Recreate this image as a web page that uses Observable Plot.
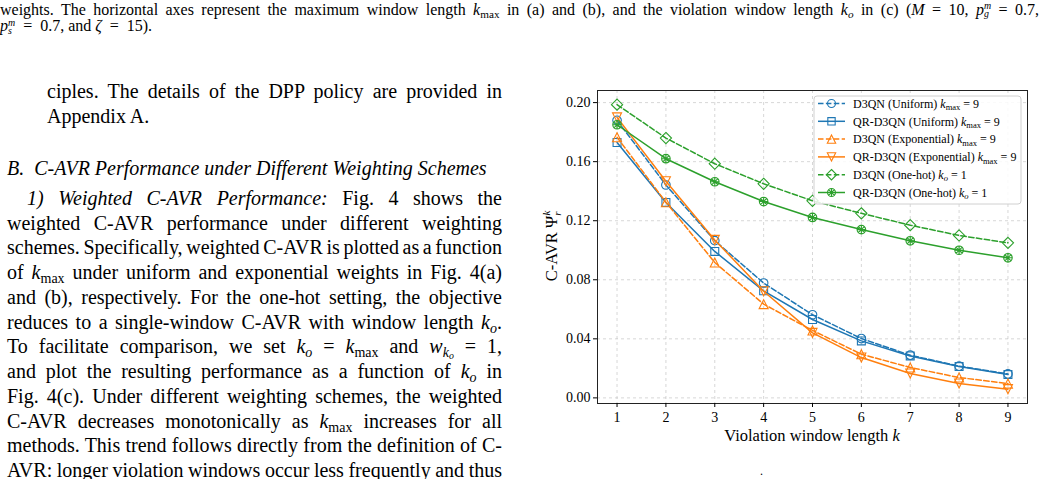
<!DOCTYPE html>
<html>
<head>
<meta charset="utf-8">
<script src="https://cdn.jsdelivr.net/npm/d3@7"></script>
<script src="https://cdn.jsdelivr.net/npm/@observablehq/plot@0.6"></script>
<style>
  html, body { margin: 0; padding: 0; background: #fff; }
  body { width: 1041px; height: 479px; position: relative; overflow: hidden;
         font-family: "Liberation Serif", "Times New Roman", serif; color: #000; }
  .ln { position: absolute; white-space: nowrap; }
  sub { font-size: 70%; vertical-align: -0.25em; line-height: 0; }
  .ss { display: inline-block; vertical-align: -0.28em; font-size: 62%; line-height: 1; font-style: italic; }
  .ss span { display: block; height: 0.82em; }
  #chart { position: absolute; left: 540px; top: 85px; }
</style>
</head>
<body>
<div id="text"></div>
<div id="chart"></div>
<script>
// ---- Chart data: C-AVR versus violation window length ----
const kValues = [1, 2, 3, 4, 5, 6, 7, 8, 9];
const yTicks = [0, 0.04, 0.08, 0.12, 0.16, 0.20];

const d3qnUniform    = [0.1880, 0.1442, 0.1065, 0.0778, 0.0563, 0.0402, 0.0289, 0.0215, 0.0162];
const qrUniform      = [0.1730, 0.1324, 0.0992, 0.0725, 0.0531, 0.0386, 0.0284, 0.0212, 0.0158];
const d3qnExp        = [0.1765, 0.1325, 0.0917, 0.0635, 0.0457, 0.0296, 0.0206, 0.0138, 0.0097];
const qrExp          = [0.1900, 0.1467, 0.1070, 0.0722, 0.0440, 0.0273, 0.0165, 0.0097, 0.0059];
const d3qnOneHot     = [0.1986, 0.1760, 0.1586, 0.1450, 0.1335, 0.1250, 0.1170, 0.1100, 0.1050];
const qrOneHot       = [0.1850, 0.1620, 0.1464, 0.1330, 0.1222, 0.1140, 0.1064, 0.1000, 0.0949];

const seriesNames  = ["D3QN (Uniform)", "QR-D3QN (Uniform)", "D3QN (Exponential)",
                      "QR-D3QN (Exponential)", "D3QN (One-hot)", "QR-D3QN (One-hot)"];
const seriesValues = [d3qnUniform, qrUniform, d3qnExp, qrExp, d3qnOneHot, qrOneHot];
const legendSub    = ["max", "max", "max", "max", "o", "o"];
const legendAt     = [9, 9, 9, 9, 1, 1];

// ---- Marker shapes ----
const rad = s => Math.sqrt(s / Math.PI);
const symCircle = { draw(c, s) { const r = rad(s); c.moveTo(r, 0); c.arc(0, 0, r, 0, 2 * Math.PI); } };
const symSquare = { draw(c, s) { const h = rad(s) * 0.92; c.rect(-h, -h, 2 * h, 2 * h); } };
const symTriUp = { draw(c, s) { const h = rad(s) * 1.05; c.moveTo(0, -h); c.lineTo(h, h); c.lineTo(-h, h); c.closePath(); } };
const symTriDown = { draw(c, s) { const h = rad(s) * 1.05; c.moveTo(0, h); c.lineTo(h, -h); c.lineTo(-h, -h); c.closePath(); } };
const symDiamond = { draw(c, s) { const h = rad(s) * 1.3; c.moveTo(0, -h); c.lineTo(h, 0); c.lineTo(0, h); c.lineTo(-h, 0); c.closePath(); } };
const symOtimes = { draw(c, s) {
  const r = rad(s); c.moveTo(r, 0); c.arc(0, 0, r, 0, 2 * Math.PI);
  const d = r * 0.72; c.moveTo(-d, -d); c.lineTo(d, d); c.moveTo(d, -d); c.lineTo(-d, d);
  c.moveTo(-r, 0); c.lineTo(r, 0); c.moveTo(0, -r); c.lineTo(0, r);
} };

const blue = "#1f77b4", orange = "#ff7f0e", green = "#2ca02c";
const styles = [
  { color: blue,   dash: "5.5,2.4", symbol: symCircle },
  { color: blue,   dash: null,      symbol: symSquare },
  { color: orange, dash: "5.5,2.4", symbol: symTriUp },
  { color: orange, dash: null,      symbol: symTriDown },
  { color: green,  dash: "5.5,2.4", symbol: symDiamond },
  { color: green,  dash: null,      symbol: symOtimes }
];

const rows = seriesNames.map((name, i) => kValues.map((k, j) => ({ k, v: seriesValues[i][j], name })));

const W = 492, H = 365;
const marks = [
  Plot.gridX(kValues, { stroke: "#b8b8b8", strokeOpacity: 0.7, strokeDasharray: "3,3", strokeWidth: 0.8 }),
  Plot.gridY(yTicks, { stroke: "#b8b8b8", strokeOpacity: 0.7, strokeDasharray: "3,3", strokeWidth: 0.8 })
];
rows.forEach((data, i) => {
  const st = styles[i];
  marks.push(Plot.line(data, { x: "k", y: "v", stroke: st.color, strokeWidth: 1.5, strokeDasharray: st.dash }));
  marks.push(Plot.dot(data, { x: "k", y: "v", stroke: st.color, fill: "none", strokeWidth: 1.1, r: 4.3, symbol: st.symbol }));
});
marks.push(
  Plot.frame({ stroke: "#222", strokeWidth: 1 }),
  Plot.axisX(kValues, { tickSize: 4, tickPadding: 5, label: null, tickFormat: d => String(d), fontSize: 14 }),
  Plot.axisY(yTicks, { tickSize: 4, tickPadding: 3, label: null, tickFormat: d => d.toFixed(2), fontSize: 14 })
);

const plot = Plot.plot({
  width: W, height: H,
  marginLeft: 57, marginRight: 5, marginTop: 5, marginBottom: 47,
  x: { domain: [0.6, 9.4] },
  y: { domain: [-0.0038, 0.2082] },
  style: { fontFamily: "Liberation Serif, Times New Roman, serif", fontSize: "14px", color: "#000", background: "transparent" },
  marks
});
document.getElementById("chart").appendChild(plot);

const svg = d3.select(plot);

// Axis titles
const xl = svg.append("text").attr("x", 272).attr("y", 356).attr("text-anchor", "middle")
  .attr("font-size", 16.5).attr("fill", "#000");
xl.append("tspan").text("Violation window length ");
xl.append("tspan").attr("font-style", "italic").text("k");

const yl = svg.append("text").attr("transform", "translate(16.5,161) rotate(-90)")
  .attr("text-anchor", "middle").attr("font-size", 16.5).attr("fill", "#000");
yl.append("tspan").text("C-AVR \u03A8");
yl.append("tspan").attr("font-style", "italic").attr("font-size", 11).attr("dy", 4).text("r");
yl.append("tspan").attr("font-style", "italic").attr("font-size", 11).attr("dx", -4).attr("dy", -10.5).text("k");

// Legend
const lg = svg.append("g").attr("transform", "translate(274,11)").attr("text-anchor", "start");
lg.append("rect").attr("width", 207).attr("height", 108).attr("rx", 3)
  .attr("fill", "#fff").attr("fill-opacity", 0.85).attr("stroke", "#d0d0d0").attr("stroke-width", 1);
seriesNames.forEach((name, i) => {
  const st = styles[i];
  const y = 7.5 + i * 17.8;
  lg.append("line").attr("x1", 4).attr("x2", 31).attr("y1", y).attr("y2", y)
    .attr("stroke", st.color).attr("stroke-width", 1.5).attr("stroke-dasharray", st.dash);
  lg.append("path").attr("d", d3.symbol(st.symbol, 16 * Math.PI)())
    .attr("transform", `translate(17.5,${y})`).attr("fill", "none")
    .attr("stroke", st.color).attr("stroke-width", 1.1);
  const t = lg.append("text").attr("x", 39).attr("y", y).attr("dy", "0.35em")
    .attr("text-anchor", "start").attr("font-size", 12).attr("fill", "#000");
  t.append("tspan").text(name + " ");
  t.append("tspan").attr("font-style", "italic").text("k");
  t.append("tspan").attr("font-size", 8.5).attr("dy", 2.5)
    .attr("font-style", legendSub[i] === "o" ? "italic" : "normal").text(legendSub[i]);
  t.append("tspan").attr("dy", -2.5).text(" = " + legendAt[i]);
});

// ---- Surrounding page text ----
const kmax = '<i>k</i><sub>max</sub>';
const ko = '<i>k</i><sub><i>o</i></sub>';
const wko = '<i>w</i><sub><i>k<sub>o</sub></i></sub>';
const ss = (sup, sb) => `<span class="ss"><span>${sup}</span><span>${sb}</span></span>`;
const eq = '\u2002=\u2002';

const lines = [
  { x: 0, b: 15, w: 1039, f: 16, html: `weights. The horizontal axes represent the maximum window length ${kmax} in (a) and (b), and the violation window length ${ko} in (c) (<i>M</i> = 10, <i>p</i>${ss('m', 'g')} = 0.7,` },
  { x: 0, b: 31.5, f: 16, html: `<i>p</i>${ss('m', 's')}${eq}0.7, and <i>\u03B6</i>${eq}15).` },
  { x: 47, b: 98.3, w: 455, html: 'ciples. The details of the DPP policy are provided in' },
  { x: 47, b: 123.3, html: 'Appendix A.' },
  { x: 7, b: 175, html: '<i>B.&ensp;C-AVR Performance under Different Weighting Schemes</i>' },
  { x: 27, b: 205, w: 475, html: '<i>1) Weighted C-AVR Performance:</i> Fig. 4 shows the' },
  { x: 7, b: 229.75, w: 495, html: 'weighted C-AVR performance under different weighting' },
  { x: 7, b: 254.5, w: 495, html: 'schemes. Specifically, weighted C-AVR is plotted as a function' },
  { x: 7, b: 279.25, w: 495, html: `of ${kmax} under uniform and exponential weights in Fig. 4(a)` },
  { x: 7, b: 304, w: 495, html: 'and (b), respectively. For the one-hot setting, the objective' },
  { x: 7, b: 328.75, w: 495, html: `reduces to a single-window C-AVR with window length ${ko}.` },
  { x: 7, b: 353.5, w: 495, html: `To facilitate comparison, we set ${ko} = ${kmax} and ${wko} = 1,` },
  { x: 7, b: 378.25, w: 495, html: `and plot the resulting performance as a function of ${ko} in` },
  { x: 7, b: 403, w: 495, html: 'Fig. 4(c). Under different weighting schemes, the weighted' },
  { x: 7, b: 427.75, w: 495, html: `C-AVR decreases monotonically as ${kmax} increases for all` },
  { x: 7, b: 452.5, w: 495, html: 'methods. This trend follows directly from the definition of C-' },
  { x: 7, b: 477.25, w: 495, html: 'AVR: longer violation windows occur less frequently and thus' },
  { x: 760, b: 476, f: 12, html: '.' }
];

const host = document.getElementById("text");
lines.forEach(l => {
  const f = l.f || 20, lh = Math.round(f * 1.25);
  const el = document.createElement("div");
  el.className = "ln";
  el.style.fontSize = f + "px";
  el.style.lineHeight = lh + "px";
  el.style.left = l.x + "px";
  el.style.top = (l.b - ((lh - 1.107 * f) / 2 + 0.891 * f)) + "px";
  el.innerHTML = `<span>${l.html}</span>`;
  host.appendChild(el);
  if (l.w) {
    const natural = el.firstChild.getBoundingClientRect().width;
    const n = (el.textContent.match(/ /g) || []).length;
    if (n) el.style.wordSpacing = ((l.w - natural) / n) + "px";
  }
});
</script>
</body>
</html>
